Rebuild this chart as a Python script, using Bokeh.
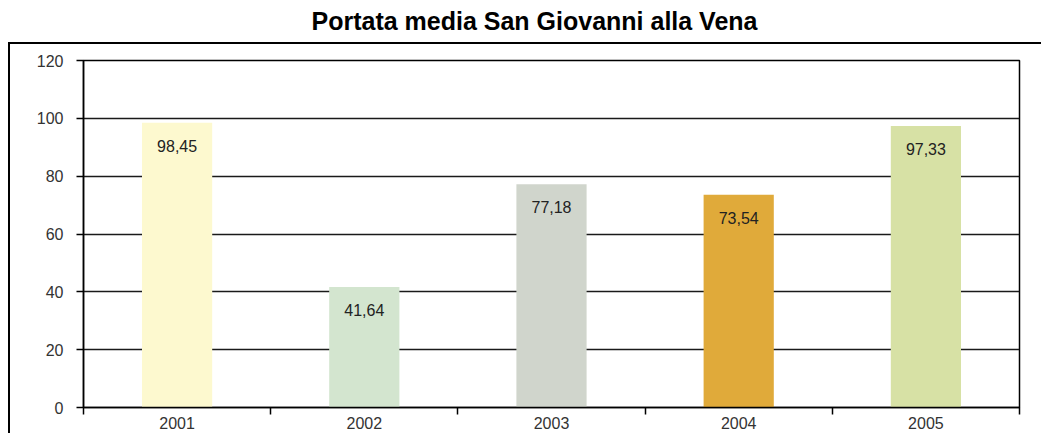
from bokeh.plotting import figure
from bokeh.models import Range1d, FixedTicker, ColumnDataSource, Div
from bokeh.layouts import column
from bokeh.embed import file_html
from bokeh.resources import INLINE
from bokeh.core.properties import value

# ---- data ----
years = ["2001", "2002", "2003", "2004", "2005"]
portata = [98.45, 41.64, 77.18, 73.54, 97.33]
bar_colors = ["#FDF9CF", "#D3E5CF", "#D0D5CC", "#E0AA3A", "#D7E1A5"]
y_ticks = [0, 20, 40, 60, 80, 100, 120]
title_text = "Portata media San Giovanni alla Vena"

FONT = "Liberation Sans"

x_pos = [i + 0.5 for i in range(len(years))]
boundaries = list(range(len(years) + 1))
labels = [f"{v:.2f}".replace(".", ",") for v in portata]
src = ColumnDataSource(dict(x=x_pos, top=portata, color=bar_colors, label=labels))

title = Div(
    text=title_text, width=1035, height=32,
    styles={
        "font-family": FONT, "font-weight": "bold", "font-size": "25px",
        "text-align": "center", "line-height": "32px", "color": "#000000",
        "text-indent": "8px",
    },
)

p = figure(
    width=1033, height=391, output_backend="svg", toolbar_location=None,
    x_range=Range1d(0, len(years)), y_range=Range1d(0, 120),
    min_border_left=73, min_border_right=24, min_border_top=16, min_border_bottom=28,
    styles={"border-left": "2px solid #000000", "border-top": "2px solid #000000"},
)
p.outline_line_color = "#000000"
p.outline_line_width = 1.5
p.background_fill_color = "white"
p.border_fill_color = "white"

p.vbar(x="x", top="top", bottom=0, width=0.375, fill_color="color",
       line_color=None, source=src)
p.text(x="x", y="top", text="label", source=src, y_offset=23,
       text_align="center", text_baseline="middle",
       text_font=value(FONT), text_font_size="16px", text_color="#222222")

p.xgrid.visible = False
p.ygrid.ticker = FixedTicker(ticks=y_ticks)
p.ygrid.grid_line_color = "#1a1a1a"
p.ygrid.grid_line_width = 1.5

# y axis
p.yaxis.ticker = FixedTicker(ticks=y_ticks)
p.yaxis.axis_line_color = "#000000"
p.yaxis.axis_line_width = 1.5
p.yaxis.major_tick_out = 7
p.yaxis.major_tick_in = 0
p.yaxis.major_tick_line_color = "#000000"
p.yaxis.major_tick_line_width = 1.5
p.yaxis.minor_tick_line_color = None
p.yaxis.major_label_standoff = 13
p.yaxis.major_label_text_font = FONT
p.yaxis.major_label_text_font_size = "16px"
p.yaxis.major_label_text_color = "#333333"

# x axis: labels at bar centres, tick marks at category boundaries
p.xaxis.ticker = FixedTicker(ticks=x_pos, minor_ticks=boundaries)
p.xaxis.major_label_overrides = {xp: yr for xp, yr in zip(x_pos, years)}
p.xaxis.axis_line_color = "#000000"
p.xaxis.axis_line_width = 1.5
p.xaxis.major_tick_out = 0
p.xaxis.major_tick_in = 0
p.xaxis.major_tick_line_color = None
p.xaxis.minor_tick_out = 7
p.xaxis.minor_tick_in = 0
p.xaxis.minor_tick_line_color = "#000000"
p.xaxis.minor_tick_line_width = 1.5
p.xaxis.major_label_standoff = 2
p.xaxis.major_label_text_font = FONT
p.xaxis.major_label_text_font_size = "16px"
p.xaxis.major_label_text_color = "#333333"

layout = column(title, p, styles={"margin-left": "8px"})
open("out.html", "w").write(file_html(layout, INLINE))
